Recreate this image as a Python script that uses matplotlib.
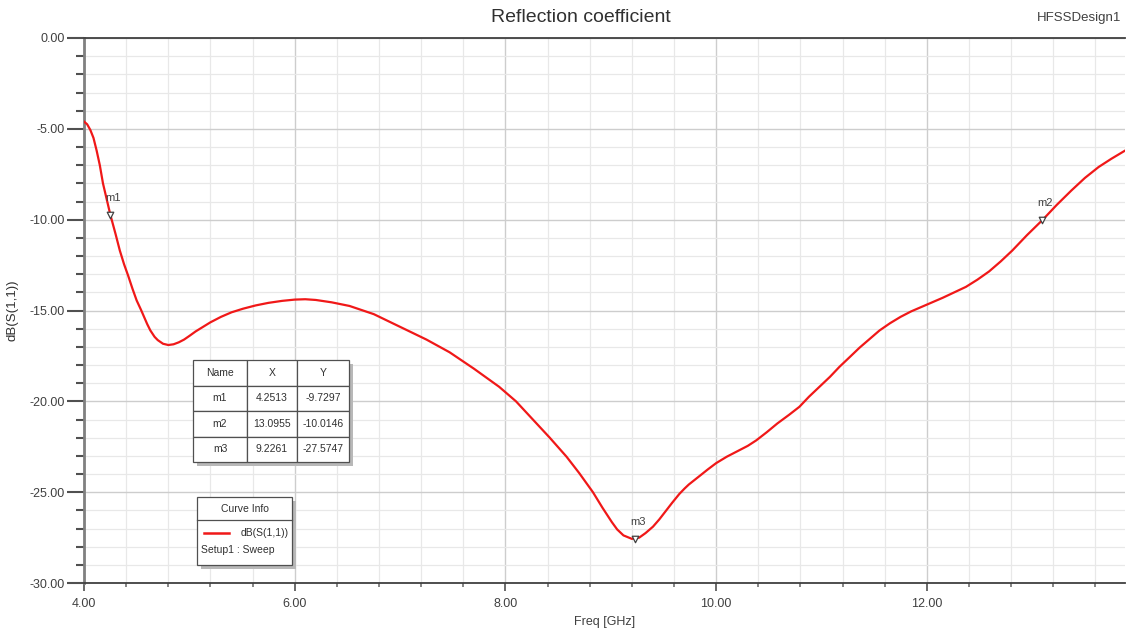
import matplotlib
matplotlib.use("Agg")
import matplotlib.pyplot as plt
from matplotlib.patches import Rectangle
from matplotlib.ticker import MultipleLocator, FormatStrFormatter

plt.rcParams['font.family'] = ['Liberation Sans', 'DejaVu Sans']

# S11 curve
freq = [4.00, 4.03, 4.06, 4.09, 4.12, 4.15, 4.18, 4.25, 4.30, 4.34, 4.38, 4.42, 4.46,
        4.50, 4.54, 4.57, 4.60, 4.63, 4.67, 4.70, 4.75, 4.80, 4.85, 4.90, 4.95,
        5.00, 5.06, 5.13, 5.20, 5.30, 5.40, 5.51, 5.63, 5.75, 5.88, 6.00, 6.10,
        6.20, 6.35, 6.52, 6.75, 7.00, 7.25, 7.47, 7.70, 7.94, 8.10, 8.26, 8.42,
        8.58, 8.70, 8.83, 8.92, 9.01, 9.06, 9.12, 9.20, 9.27, 9.33, 9.40, 9.46,
        9.52, 9.58, 9.65, 9.70, 9.74, 9.84, 9.92, 10.00, 10.10, 10.20, 10.30, 10.38,
        10.48, 10.58, 10.69, 10.79, 10.88, 10.98, 11.08, 11.17, 11.27, 11.36,
        11.46, 11.55, 11.65, 11.75, 11.85, 11.95, 12.05, 12.15, 12.26, 12.37,
        12.48, 12.59, 12.70, 12.81, 12.95, 13.10, 13.23, 13.37, 13.50, 13.63,
        13.75, 13.88]
s11 = [-4.6, -4.75, -5.06, -5.5, -6.2, -7.0, -8.0, -9.73, -10.8, -11.7, -12.45, -13.1, -13.8,
       -14.45, -14.95, -15.35, -15.75, -16.1, -16.45, -16.63, -16.83, -16.9, -16.86, -16.75, -16.6,
       -16.4, -16.15, -15.9, -15.65, -15.35, -15.1, -14.9, -14.72, -14.58, -14.47, -14.4, -14.38,
       -14.42, -14.55, -14.75, -15.2, -15.9, -16.6, -17.3, -18.2, -19.2, -20.0, -21.0, -22.0,
       -23.05, -23.95, -25.0, -25.85, -26.65, -27.05, -27.38, -27.57, -27.5, -27.25, -26.9, -26.5,
       -26.05, -25.6, -25.1, -24.8, -24.58, -24.12, -23.75, -23.4, -23.05, -22.75, -22.45, -22.15,
       -21.7, -21.22, -20.75, -20.3, -19.75, -19.2, -18.65, -18.1, -17.55, -17.05,
       -16.55, -16.1, -15.7, -15.35, -15.05, -14.8, -14.55, -14.3, -14.0, -13.7,
       -13.3, -12.85, -12.3, -11.7, -10.85, -10.0, -9.2, -8.4, -7.7, -7.1,
       -6.65, -6.2]

marker_names = ['m1', 'm2', 'm3']
marker_x = [4.2513, 13.0955, 9.2261]
marker_y = [-9.7297, -10.0146, -27.5747]
marker_x_txt = ['4.2513', '13.0955', '9.2261']
marker_y_txt = ['-9.7297', '-10.0146', '-27.5747']

W, H = 1127, 633
fig = plt.figure(figsize=(W / 100, H / 100), dpi=100)
fig.patch.set_facecolor('white')

def fx(px):
    return px / W

def fy(py):
    return 1 - py / H

ax = fig.add_axes([fx(84), fy(583), fx(1125 - 84), (583 - 38) / H])
tf = fig.transFigure

ax.plot(freq, s11, color='#f01818', lw=1.6, zorder=3)

ax.set_xlim(4.0, 13.88)
ax.set_ylim(-30, 0)
ax.xaxis.set_major_locator(MultipleLocator(2))
ax.xaxis.set_minor_locator(MultipleLocator(0.4))
ax.yaxis.set_major_locator(MultipleLocator(5))
ax.yaxis.set_minor_locator(MultipleLocator(1))
ax.xaxis.set_major_formatter(FormatStrFormatter('%.2f'))
ax.yaxis.set_major_formatter(FormatStrFormatter('%.2f'))

ax.grid(which='major', color='#cdcdcd', lw=1.0, zorder=0)
ax.grid(which='minor', color='#e8e8e8', lw=0.9, zorder=0)
ax.set_axisbelow(True)

ax.tick_params(axis='y', which='major', length=12, width=1.5, color='#505050',
               labelsize=9, labelcolor='#404040', pad=2)
ax.tick_params(axis='y', which='minor', length=6, width=1.5, color='#505050')
ax.tick_params(axis='x', which='major', length=6, width=1.2, color='#505050',
               labelsize=9, labelcolor='#404040', pad=5)
ax.tick_params(axis='x', which='minor', length=3, width=1.2, color='#707070')

ax.spines['left'].set_color('#808080')
ax.spines['left'].set_linewidth(2)
ax.spines['bottom'].set_color('#404040')
ax.spines['bottom'].set_linewidth(1.3)
ax.spines['top'].set_color('#404040')
ax.spines['top'].set_linewidth(1.3)
ax.spines['right'].set_visible(False)

ax.set_xlabel('Freq [GHz]', fontsize=9, color='#404040', labelpad=4)
ax.set_ylabel('dB(S(1,1))', fontsize=9.5, color='#303030', labelpad=8)

fig.text(0.515, fy(18), 'Reflection coefficient', fontsize=14, color='#303030',
         ha='center', va='center')
fig.text(fx(1121), fy(18), 'HFSSDesign1', fontsize=9.5, color='#404040',
         ha='right', va='center')

# markers
ax.scatter(marker_x, marker_y, marker='v', s=22, facecolors='white',
           edgecolors='#404040', linewidths=0.9, zorder=5)
for name, mx, my in zip(marker_names, marker_x, marker_y):
    ax.annotate(name, (mx, my), xytext=(3, 17), textcoords='offset pixels',
                fontsize=8, color='#404040', ha='center', va='center', zorder=6)

# marker table with drop shadow
tx0, ty0, tx1, ty1 = 193, 360, 349, 462
ax.add_patch(Rectangle((fx(tx0 + 4), fy(ty1 + 4)), fx(tx1 - tx0), (ty1 - ty0) / H,
                       transform=tf, facecolor='#b8b8b8', edgecolor='none',
                       clip_on=False, zorder=4))
rows = [[n, xv, yv] for n, xv, yv in zip(marker_names, marker_x_txt, marker_y_txt)]
tab = ax.table(cellText=rows, colLabels=['Name', 'X', 'Y'], cellLoc='center',
               colWidths=[54, 50, 52],
               bbox=[(tx0 - 84) / 1041, (583 - ty1) / 545,
                     (tx1 - tx0) / 1041, (ty1 - ty0) / 545])
tab.auto_set_font_size(False)
tab.set_fontsize(7.5)
tab.set_zorder(6)
for cell in tab.get_celld().values():
    cell.set_edgecolor('#505050')
    cell.set_linewidth(0.9)
    cell.set_facecolor('white')
    cell.get_text().set_color('#303030')

# curve info box
bx0, by0, bx1, by1 = 197, 497, 292, 565
ax.add_patch(Rectangle((fx(bx0 + 4), fy(by1 + 4)), fx(bx1 - bx0), (by1 - by0) / H,
                       transform=tf, facecolor='#b8b8b8', edgecolor='none',
                       clip_on=False, zorder=4))
ax.add_patch(Rectangle((fx(bx0), fy(by1)), fx(bx1 - bx0), (by1 - by0) / H,
                       transform=tf, facecolor='white', edgecolor='#505050', lw=0.9,
                       clip_on=False, zorder=5))
ax.plot([fx(bx0), fx(bx1)], [fy(520), fy(520)], transform=tf, color='#505050',
        lw=0.9, clip_on=False, zorder=6)
ax.text(fx((bx0 + bx1) / 2), fy(509), 'Curve Info', transform=tf, fontsize=7.5,
        color='#303030', ha='center', va='center', zorder=7)
ax.plot([fx(204), fx(229)], [fy(533), fy(533)], transform=tf, color='#f01818',
        lw=1.8, clip_on=False, zorder=7)
ax.text(fx(289), fy(533), 'dB(S(1,1))', transform=tf, fontsize=7.5,
        color='#303030', ha='right', va='center', zorder=7)
ax.text(fx(201), fy(550), 'Setup1 : Sweep', transform=tf, fontsize=7.5,
        color='#303030', ha='left', va='center', zorder=7)

fig.savefig('out.png', dpi=100)
